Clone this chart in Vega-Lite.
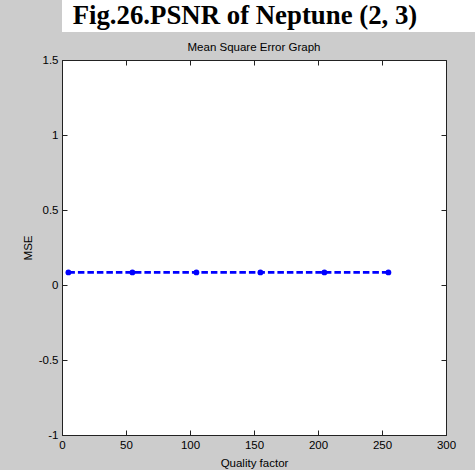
{
  "$schema": "https://vega.github.io/schema/vega-lite/v6.json",
  "background": "#cccccc",
  "padding": 0,
  "spacing": 9,
  "config": {
    "view": {"stroke": null},
    "font": "Liberation Sans",
    "axis": {
      "grid": false,
      "labelFont": "Liberation Sans",
      "labelFontSize": 11.5,
      "labelColor": "#000000",
      "titleFont": "Liberation Sans",
      "titleFontSize": 11.5,
      "titleFontWeight": "normal",
      "titleColor": "#000000",
      "domainColor": "#222222",
      "tickColor": "#222222",
      "tickSize": -5,
      "labelFlush": false,
      "labelOverlap": false
    },
    "title": {"font": "Liberation Sans", "fontSize": 11.5, "fontWeight": "normal", "color": "#000000", "offset": 1}
  },
  "vconcat": [
    {
      "width": 413,
      "height": 32,
      "view": {"fill": "white", "stroke": null},
      "data": {"values": [{"t": "Fig.26.PSNR of Neptune (2, 3)", "px": 0.443, "py": 0.5}]},
      "mark": {
        "type": "text",
        "font": "Liberation Serif",
        "fontSize": 26.8,
        "fontWeight": "bold",
        "color": "#000000",
        "align": "center",
        "baseline": "middle"
      },
      "encoding": {
        "text": {"field": "t"},
        "x": {"field": "px", "type": "quantitative", "scale": {"domain": [0, 1]}, "axis": null},
        "y": {"field": "py", "type": "quantitative", "scale": {"domain": [0, 1]}, "axis": null}
      }
    },
    {
      "width": 384,
      "height": 375,
      "view": {"fill": "white", "stroke": "#222222"},
      "title": {"text": "Mean Square Error Graph", "anchor": "middle"},
      "data": {
        "values": [
          {"q": 5, "mse": 0.084},
          {"q": 55, "mse": 0.084},
          {"q": 105, "mse": 0.084},
          {"q": 155, "mse": 0.084},
          {"q": 205, "mse": 0.084},
          {"q": 255, "mse": 0.084}
        ]
      },
      "layer": [
        {
          "mark": {"type": "line", "color": "#0000ff", "strokeWidth": 2.6, "strokeDash": [6.5, 3]},
          "encoding": {
            "x": {
              "field": "q",
              "type": "quantitative",
              "scale": {"domain": [0, 300], "nice": false},
              "axis": {"values": [0, 50, 100, 150, 200, 250, 300], "title": "Quality factor", "labelPadding": 9, "titlePadding": 7}
            },
            "y": {
              "field": "mse",
              "type": "quantitative",
              "scale": {"domain": [-1, 1.5], "nice": false, "zero": false},
              "axis": {
                "values": [-1, -0.5, 0, 0.5, 1, 1.5],
                "title": ["", "MSE"],
                "titleLineHeight": 21,
                "labelExpr": "'' + datum.value",
                "labelPadding": 9,
                "titlePadding": 5
              }
            }
          }
        },
        {
          "mark": {"type": "point", "filled": true, "color": "#0000ff", "size": 34, "opacity": 1},
          "encoding": {
            "x": {"field": "q", "type": "quantitative", "axis": null},
            "y": {"field": "mse", "type": "quantitative", "axis": null}
          }
        },
        {
          "mark": {"type": "point", "opacity": 0},
          "encoding": {
            "x": {"field": "q", "type": "quantitative", "axis": {"orient": "top", "values": [0, 50, 100, 150, 200, 250, 300], "labels": false, "title": null, "domain": false}},
            "y": {"field": "mse", "type": "quantitative", "axis": {"orient": "right", "values": [-1, -0.5, 0, 0.5, 1, 1.5], "labels": false, "title": null, "domain": false}}
          }
        }
      ],
      "resolve": {"axis": {"x": "independent", "y": "independent"}}
    }
  ]
}
